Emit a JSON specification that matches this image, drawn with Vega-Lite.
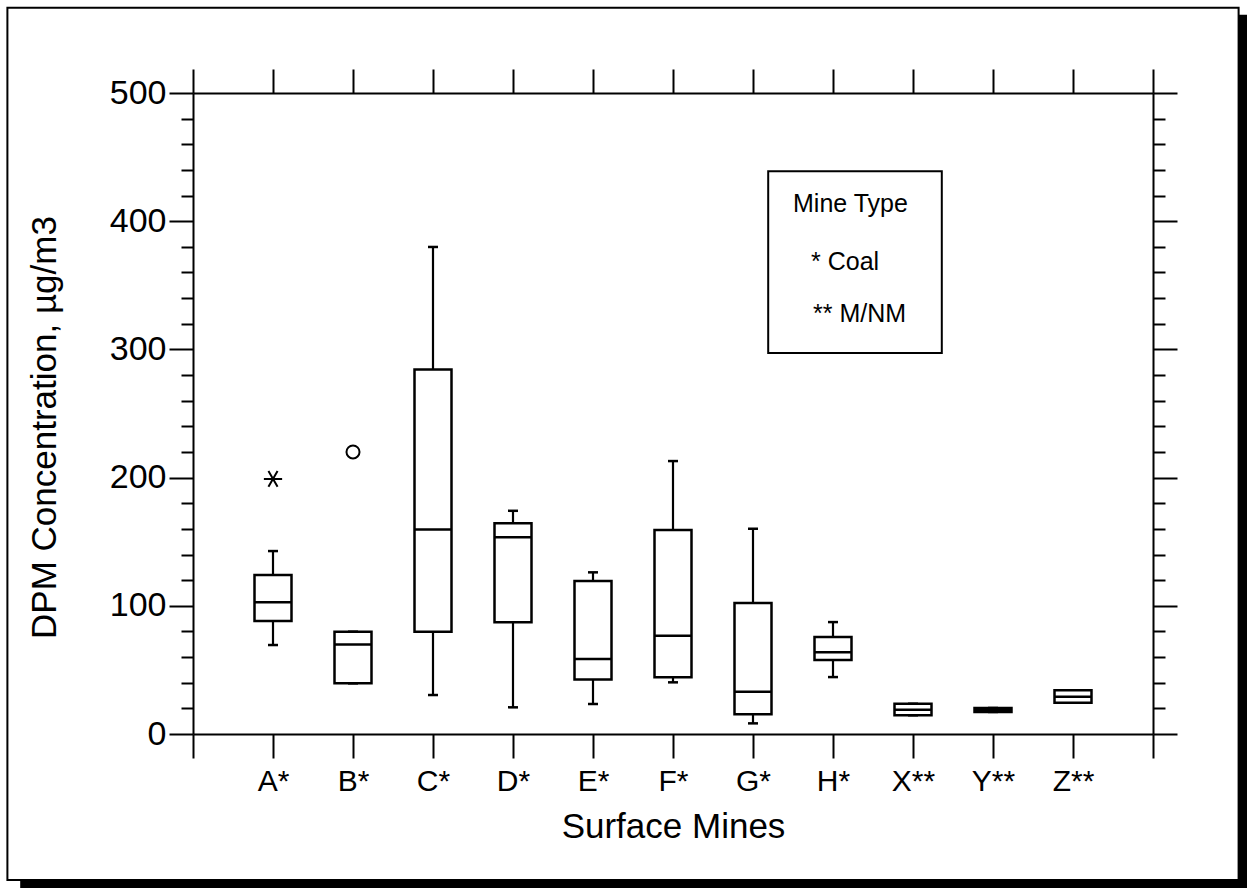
{
  "$schema": "https://vega.github.io/schema/vega-lite/v6.json",
  "width": 960,
  "height": 641,
  "autosize": {"type": "none"},
  "padding": {"left": 193, "top": 93, "right": 94, "bottom": 154},
  "background": "white",
  "config": {
    "view": {"stroke": null},
    "font": "Liberation Sans",
    "axis": {
      "zindex": 1,
      "domainColor": "black",
      "domainWidth": 2,
      "tickColor": "black",
      "tickWidth": 2,
      "labelColor": "black",
      "labelFont": "Liberation Sans",
      "titleFont": "Liberation Sans",
      "titleColor": "black",
      "titleFontWeight": "normal",
      "grid": false
    }
  },
  "datasets": {
    "boxes": [
      {"mine": "A*", "lower": 69.4, "q1": 88.1, "median": 102.7, "q3": 124.0, "upper": 142.7},
      {"mine": "B*", "lower": 39.5, "q1": 39.5, "median": 69.9, "q3": 79.8, "upper": 79.8},
      {"mine": "C*", "lower": 30.4, "q1": 79.8, "median": 159.6, "q3": 284.3, "upper": 379.9},
      {"mine": "D*", "lower": 20.8, "q1": 87.1, "median": 153.4, "q3": 164.3, "upper": 174.1},
      {"mine": "E*", "lower": 23.4, "q1": 42.6, "median": 58.5, "q3": 119.3, "upper": 126.1},
      {"mine": "F*", "lower": 40.3, "q1": 44.2, "median": 76.7, "q3": 159.1, "upper": 212.9},
      {"mine": "G*", "lower": 8.3, "q1": 15.4, "median": 33.0, "q3": 102.1, "upper": 160.1},
      {"mine": "H*", "lower": 44.4, "q1": 57.7, "median": 63.7, "q3": 75.6, "upper": 87.3},
      {"mine": "X**", "lower": 14.6, "q1": 14.6, "median": 18.9, "q3": 23.6, "upper": 23.6},
      {"mine": "Y**", "lower": 17.2, "q1": 17.2, "median": 18.7, "q3": 20.3, "upper": 20.3},
      {"mine": "Z**", "lower": 24.4, "q1": 24.4, "median": 29.1, "q3": 34.1, "upper": 34.1}
    ],
    "outliers": [
      {"mine": "A*", "value": 199},
      {"mine": "B*", "value": 220}
    ],
    "legend": [
      {"line": "Mine Type", "lx": 7.5, "ly": 407.2},
      {"line": "* Coal", "lx": 7.725, "ly": 361.9},
      {"line": "** M/NM", "lx": 7.75, "ly": 321.4}
    ]
  },
  "layer": [
    {
      "layer": [
        {
          "data": {"values": [{}]},
          "mark": {"type": "rect", "fill": "black", "strokeWidth": 0},
          "encoding": {
            "x": {"datum": 13.07, "type": "quantitative", "scale": {"domain": [0, 12], "nice": false, "zero": false}, "axis": null},
            "x2": {"datum": 13.4},
            "y": {"datum": 561, "type": "quantitative", "axis": null},
            "y2": {"datum": -130}
          }
        },
        {
          "data": {"values": [{}]},
          "mark": {"type": "rect", "fill": "black", "strokeWidth": 0},
          "encoding": {
            "x": {"datum": -2.16, "type": "quantitative", "axis": null},
            "x2": {"datum": 13.4},
            "y": {"datum": -113.9, "type": "quantitative", "axis": null},
            "y2": {"datum": -130}
          }
        },
        {
          "data": {"values": [{}]},
          "mark": {"type": "rect", "fill": "white", "fillOpacity": 0, "stroke": "black", "strokeWidth": 2},
          "encoding": {
            "x": {"datum": -2.32, "type": "quantitative", "axis": null},
            "x2": {"datum": 13.07},
            "y": {"datum": 566.5, "type": "quantitative", "axis": null},
            "y2": {"datum": -113.9}
          }
        },
        {
          "data": {"values": [{}]},
          "mark": {"type": "rect", "fill": "white", "fillOpacity": 0, "stroke": "black", "strokeWidth": 2},
          "encoding": {
            "x": {"datum": 7.19, "type": "quantitative", "axis": null},
            "x2": {"datum": 9.36},
            "y": {"datum": 439, "type": "quantitative", "axis": null},
            "y2": {"datum": 297.2}
          }
        },
        {
          "data": {"name": "legend"},
          "mark": {"type": "text", "align": "left", "baseline": "alphabetic", "fontSize": 25, "color": "black"},
          "encoding": {
            "x": {"field": "lx", "type": "quantitative", "axis": null},
            "y": {"field": "ly", "type": "quantitative", "axis": null},
            "text": {"field": "line"}
          }
        }
      ]
    },
    {
      "data": {"name": "boxes"},
      "layer": [
        {
          "mark": {"type": "rule", "color": "black", "strokeWidth": 2.2},
          "encoding": {
            "x": {
              "field": "mine", "type": "nominal", "sort": null,
              "scale": {"type": "point", "padding": 0, "domain": ["", "A*", "B*", "C*", "D*", "E*", "F*", "G*", "H*", "X**", "Y**", "Z**", " "]},
              "axis": {"orient": "bottom", "zindex": 1, "title": "Surface Mines", "labelAngle": 0, "tickSize": 24, "labelFontSize": 30, "labelPadding": 8, "titleFontSize": 35, "titlePadding": 13}
            },
            "y": {
              "field": "lower", "type": "quantitative",
              "scale": {"domain": [0, 500], "nice": false},
              "axis": {
                "orient": "left",
                "zindex": 1,
                "title": "DPM Concentration, µg/m3",
                "values": [0, 20, 40, 60, 80, 100, 120, 140, 160, 180, 200, 220, 240, 260, 280, 300, 320, 340, 360, 380, 400, 420, 440, 460, 480, 500],
                "tickSize": {"condition": {"test": "datum.value % 100 === 0", "value": 24}, "value": 12},
                "labelExpr": "datum.value % 100 === 0 ? datum.label : ''",
                "labelFontSize": 34,
                "labelPadding": 3,
                "titleFontSize": 35,
                "titlePadding": 47,
                "titleY": 334
              }
            },
            "y2": {"field": "upper"}
          }
        },
        {
          "mark": {"type": "tick", "color": "black", "size": 10, "thickness": 2.5, "opacity": 1},
          "encoding": {
            "x": {"field": "mine", "type": "nominal", "sort": null, "axis": {"orient": "top", "zindex": 1, "title": null, "labels": false, "tickSize": 24}},
            "y": {"field": "lower", "type": "quantitative", "axis": {
                "orient": "right",
                "zindex": 1,
                "title": null,
                "labels": false,
                "values": [0, 20, 40, 60, 80, 100, 120, 140, 160, 180, 200, 220, 240, 260, 280, 300, 320, 340, 360, 380, 400, 420, 440, 460, 480, 500],
                "tickSize": {"condition": {"test": "datum.value % 100 === 0", "value": 24}, "value": 12}
              }}
          }
        },
        {
          "mark": {"type": "tick", "color": "black", "size": 10, "thickness": 2.5, "opacity": 1},
          "encoding": {
            "x": {"field": "mine", "type": "nominal", "sort": null, "axis": null},
            "y": {"field": "upper", "type": "quantitative", "axis": null}
          }
        },
        {
          "mark": {"type": "bar", "orient": "vertical", "width": 37, "fill": "white", "stroke": "black", "strokeWidth": 2.5, "opacity": 1},
          "encoding": {
            "x": {"field": "mine", "type": "nominal", "sort": null, "axis": null},
            "y": {"field": "q1", "type": "quantitative", "axis": null},
            "y2": {"field": "q3"}
          }
        },
        {
          "mark": {"type": "tick", "color": "black", "size": 37, "thickness": 2.5, "opacity": 1},
          "encoding": {
            "x": {"field": "mine", "type": "nominal", "sort": null, "axis": null},
            "y": {"field": "median", "type": "quantitative", "axis": null}
          }
        },
        {
          "data": {"name": "outliers"},
          "mark": {"type": "point", "filled": false, "stroke": "black", "strokeWidth": 2, "size": 170, "opacity": 1},
          "encoding": {
            "x": {"field": "mine", "type": "nominal", "sort": null, "axis": null},
            "y": {"field": "value", "type": "quantitative", "axis": null},
            "shape": {"field": "mine", "type": "nominal", "legend": null,
              "scale": {"domain": ["A*", "B*"], "range": ["M-1.4,0L1.4,0M-0.7,-1.2L0.7,1.2M-0.7,1.2L0.7,-1.2", "circle"]}}
          }
        }
      ],
      "resolve": {"axis": {"x": "independent", "y": "independent"}}
    }
  ],
  "resolve": {"scale": {"x": "independent"}, "axis": {"x": "independent", "y": "independent"}}
}
